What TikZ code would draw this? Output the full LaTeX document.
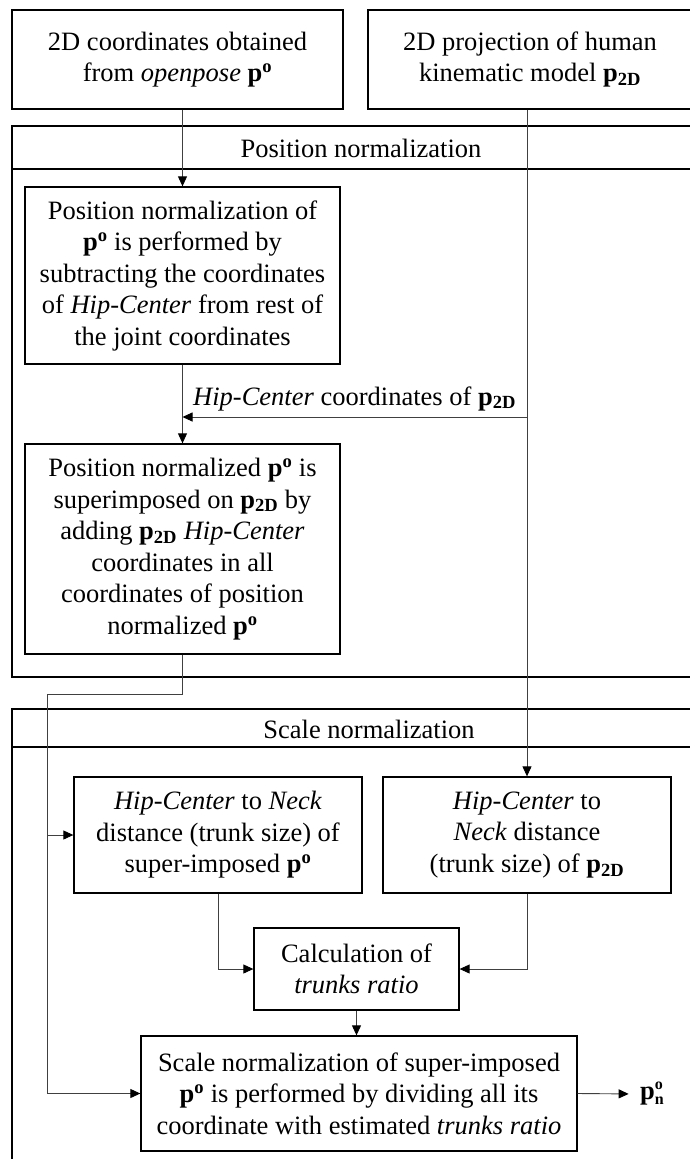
\documentclass[tikz,border=0pt]{standalone}
\usepackage{fontspec}
\setmainfont{Liberation Serif}
\usetikzlibrary{arrows.meta}
\newcommand\pO{\textbf{p}\textsuperscript{\textbf{o}}}
\newcommand\pTD{\textbf{p}\textsubscript{\textbf{2D}}}
\begin{document}
\begin{tikzpicture}[x=1pt,y=-1pt,
  every node/.style={font=\fontsize{26.5}{31.5}\selectfont},
  box/.style={draw, line width=1.3pt, rectangle, inner sep=0pt, align=center},
  frame/.style={draw, line width=1.3pt, rectangle, inner sep=0pt},
  conn/.style={draw=black!75, line width=0.9pt},
  arr/.style={conn, -{Triangle[length=10pt,width=9pt,color=black,fill=black]}}]
\useasboundingbox (0,0) rectangle (689,1159);
% containers
\node[frame, minimum width=708pt, minimum height=551pt] (posC) at (366,401.5) {};
\node[frame, minimum width=708pt, minimum height=491pt] (scC) at (366,954.5) {};
\draw[line width=1.3pt] (posC.west |- 0,169) -- (posC.east |- 0,169);
\draw[line width=1.3pt] (scC.west |- 0,747) -- (scC.east |- 0,747);
\node[anchor=base] (posT) at (361,157) {Position normalization};
\node[anchor=base] (scT) at (369,738) {Scale normalization};
% top boxes
\node[box, minimum width=331pt, minimum height=99pt] (topL) at (177.5,59.5)
  {2D coordinates obtained\\ from \textit{openpose} \pO};
\node[box, minimum width=324pt, minimum height=99pt] (topR) at (530,59.5)
  {2D projection of human\\ kinematic model \pTD};
% position normalization boxes
\node[box, minimum width=315pt, minimum height=177pt] (box1) at (182.5,275.5)
  {Position normalization of\\ \pO{} is performed by\\ subtracting the coordinates\\ of \textit{Hip-Center} from rest of\\ the joint coordinates};
\node[box, minimum width=315pt, minimum height=210pt] (box2) at (182.5,549)
  {Position normalized \pO{} is\\ superimposed on \pTD{} by\\ adding \pTD{} \textit{Hip-Center}\\ coordinates in all\\ coordinates of position\\ normalized \pO};
% scale normalization boxes
\node[box, minimum width=288pt, minimum height=116pt] (sL) at (218,835)
  {\textit{Hip-Center} to \textit{Neck}\\ distance (trunk size) of\\ super-imposed \pO};
\node[box, minimum width=288pt, minimum height=116pt] (sR) at (527,835)
  {\textit{Hip-Center} to\\ \textit{Neck} distance\\ (trunk size) of \pTD};
\node[box, minimum width=205pt, minimum height=82pt] (calc) at (356.5,969)
  {Calculation of\\ \textit{trunks ratio}};
\node[box, minimum width=436pt, minimum height=115pt] (final) at (359,1093.5)
  {Scale normalization of super-imposed\\ \pO{} is performed by dividing all its\\ coordinate with estimated \textit{trunks ratio}};
\node (pno) at (652,1094) {\textbf{p}\rlap{\raisebox{10pt}{\fontsize{16}{16}\selectfont\textbf{o}}}\raisebox{-5pt}{\fontsize{16}{16}\selectfont\textbf{n}}};
% label
\node[anchor=base west, inner sep=0pt] (lbl) at (193,405) {\textit{Hip-Center} coordinates of \pTD};
% connectors
\coordinate (j1) at (527,417);
\coordinate (c1) at (47,694);
\draw[arr] (box1.north |- topL.south) -- (box1.north);
\draw[arr] (box1.south) -- (box2.north);
\draw[arr] (topR.south -| sR.north) -- (sR.north);
\draw[arr] (j1) -- (j1 -| box1.south);
\draw[arr] (box2.south) |- (c1) |- (final.west);
\draw[arr] (c1 |- sL.west) -- (sL.west);
\draw[arr] (sL.south) |- (calc.west);
\draw[arr] (sR.south) |- (calc.east);
\draw[arr] (calc.south) -- (calc.south |- final.north);
\draw[arr, shorten >=8pt] (final.east) -- (pno.west);
\end{tikzpicture}
\end{document}
